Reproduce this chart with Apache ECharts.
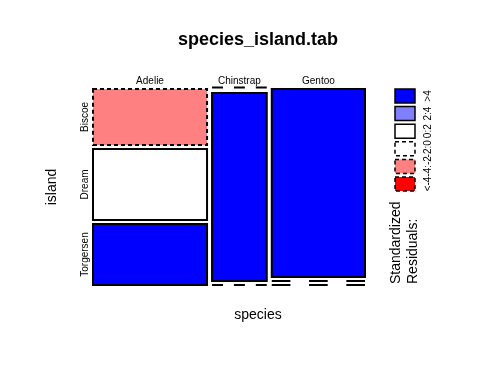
<!DOCTYPE html>
<html><head><meta charset="utf-8">
<script src="https://cdn.jsdelivr.net/npm/echarts@6/dist/echarts.min.js"></script>
<style>html,body{margin:0;padding:0;background:#fff}#c{width:480px;height:384px}</style>
</head><body><div id="c"></div>
<script>
const species = ['Adelie', 'Chinstrap', 'Gentoo'];
const islands = ['Biscoe', 'Dream', 'Torgersen'];
const adelie = [44, 56, 48];
const chinstrap = [0, 71, 0];
const gentoo = [121, 0, 0];
const legendLabels = ['>4', '2:4', '0:2', '-2:0', '-4:-2', '<-4'];
const legendColors = ['#0000FF', '#8080FF', '#FFFFFF', '#FFFFFF', '#FF8080', '#FF0000'];

const counts = [adelie, chinstrap, gentoo];
const colTotals = counts.map(c => c.reduce((a, b) => a + b, 0));
const total = colTotals.reduce((a, b) => a + b, 0);
const rowTotals = islands.map((_, r) => counts.reduce((a, c) => a + c[r], 0));
const gapX = 6.5;
const gapY = 4 / 188;
const xMax = total + gapX * (species.length - 1);
const yMax = 1 + gapY * (islands.length - 1);

function colStart(c) { let s = 0; for (let i = 0; i < c; i++) s += colTotals[i] + gapX; return s; }
function rowStart(c, r) { let s = 0; for (let i = 0; i < r; i++) s += counts[c][i] / colTotals[c] + gapY; return s; }
function residual(c, r) { const e = colTotals[c] * rowTotals[r] / total; return (counts[c][r] - e) / Math.sqrt(e); }
function shade(res) {
  if (res > 4) return legendColors[0];
  if (res > 2) return legendColors[1];
  if (res > 0) return legendColors[2];
  if (res > -2) return legendColors[3];
  if (res > -4) return legendColors[4];
  return legendColors[5];
}

const tileData = [];
species.forEach((s, c) => islands.forEach((isl, r) => tileData.push([c, r])));

const FONT = 'Liberation Sans, Arial, sans-serif';

function renderTile(params, api) {
  const c = api.value(0), r = api.value(1);
  const x0 = colStart(c), x1 = x0 + colTotals[c];
  const y0 = rowStart(c, r), y1 = y0 + counts[c][r] / colTotals[c];
  const p0 = api.coord([x0, y0]), p1 = api.coord([x1, y1]);
  const res = residual(c, r);
  const dashed = res < 0;
  if (counts[c][r] === 0) {
    const w = p1[0] - p0[0];
    const yy = r === 0 ? p0[1] - 1.5 : p0[1];
    return { type: 'line', shape: { x1: p0[0], y1: yy, x2: p1[0], y2: yy },
      style: { stroke: '#000', lineWidth: 2, lineDash: [w / 5, w / 5] } };
  }
  return { type: 'rect', shape: { x: p0[0], y: p0[1], width: p1[0] - p0[0], height: p1[1] - p0[1] },
    style: { fill: shade(res), stroke: '#000', lineWidth: 2, lineDash: dashed ? [4, 3] : null } };
}

function renderColLabel(params, api) {
  const c = api.value(0);
  const p = api.coord([colStart(c) + colTotals[c] / 2, 0]);
  return { type: 'text', x: p[0], y: p[1] - 8,
    style: { text: species[c], fill: '#000', font: '10px ' + FONT, align: 'center', verticalAlign: 'middle' } };
}
function renderRowLabel(params, api) {
  const r = api.value(0);
  const y0 = rowStart(0, r), y1 = y0 + counts[0][r] / colTotals[0];
  const p = api.coord([0, (y0 + y1) / 2]);
  return { type: 'text', x: p[0] - 8, y: p[1], rotation: Math.PI / 2,
    style: { text: islands[r], fill: '#000', font: '10px ' + FONT, align: 'center', verticalAlign: 'middle' } };
}

const graphics = [];
legendLabels.forEach((lab, i) => {
  const top = 89 + i * 17.6;
  graphics.push({ type: 'rect', shape: { x: 395, y: top, width: 20, height: 14 },
    style: { fill: legendColors[i], stroke: '#000', lineWidth: 1.5, lineDash: i >= 3 ? [4, 3] : null } });
  graphics.push({ type: 'text', x: 428, y: top + 7, rotation: Math.PI / 2,
    style: { text: lab, fill: '#000', font: '10px ' + FONT, align: 'center', verticalAlign: 'middle' } });
});
graphics.push({ type: 'text', x: 396, y: 284, rotation: Math.PI / 2,
  style: { text: 'Standardized', fill: '#000', font: '14px ' + FONT, align: 'left', verticalAlign: 'middle' } });
graphics.push({ type: 'text', x: 413, y: 284, rotation: Math.PI / 2,
  style: { text: 'Residuals:', fill: '#000', font: '14px ' + FONT, align: 'left', verticalAlign: 'middle' } });
graphics.push({ type: 'text', x: 258, y: 40,
  style: { text: 'species_island.tab', fill: '#000', font: 'bold 18px ' + FONT, align: 'center', verticalAlign: 'middle' } });
graphics.push({ type: 'text', x: 258, y: 315,
  style: { text: 'species', fill: '#000', font: '14px ' + FONT, align: 'center', verticalAlign: 'middle' } });
graphics.push({ type: 'text', x: 52, y: 187, rotation: Math.PI / 2,
  style: { text: 'island', fill: '#000', font: '14px ' + FONT, align: 'center', verticalAlign: 'middle' } });

const chart = echarts.init(document.getElementById('c'), null, { renderer: 'canvas' });
chart.setOption({
  backgroundColor: '#fff',
  animation: false,
  grid: { left: 93, top: 89, width: 272, height: 196 },
  xAxis: { type: 'value', min: 0, max: xMax, show: false },
  yAxis: { type: 'value', min: 0, max: yMax, inverse: true, show: false },
  series: [
    { type: 'custom', renderItem: renderTile, data: tileData, clip: false },
    { type: 'custom', renderItem: renderColLabel, data: species.map((_, i) => [i]), clip: false },
    { type: 'custom', renderItem: renderRowLabel, data: islands.map((_, i) => [i]), clip: false }
  ],
  graphic: graphics
});
</script></body></html>
